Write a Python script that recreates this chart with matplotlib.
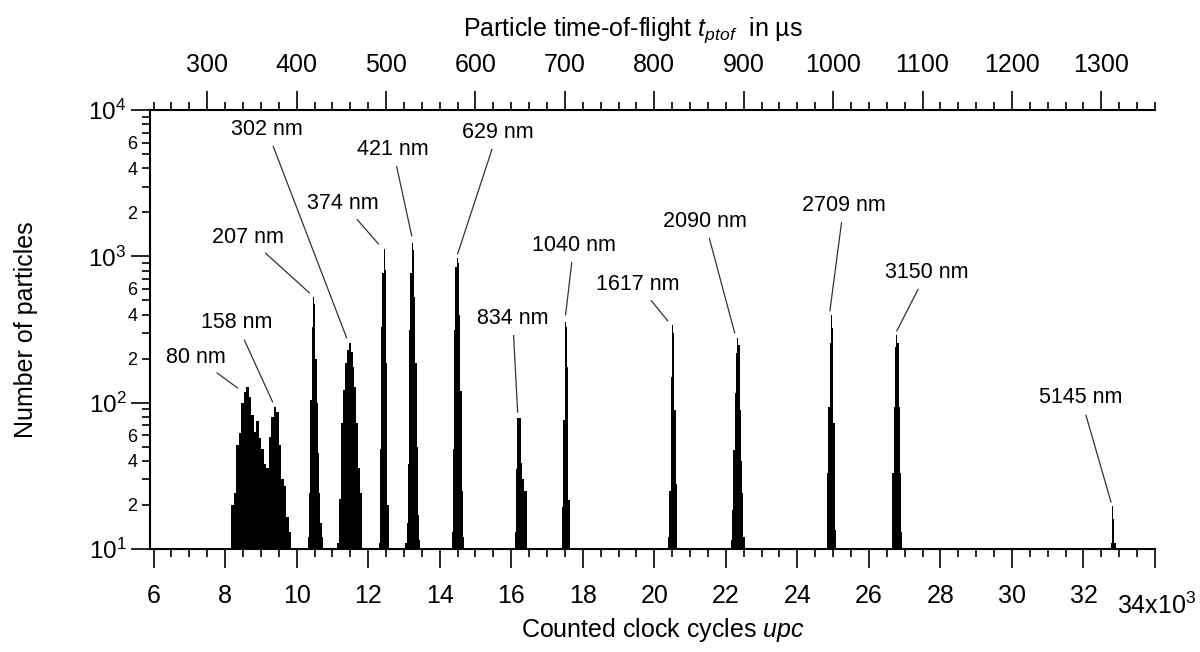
import numpy as np
import matplotlib
matplotlib.use("Agg")
import matplotlib.pyplot as plt
from matplotlib.ticker import FixedLocator, FuncFormatter

plt.rcParams['font.family'] = ['Liberation Sans', 'DejaVu Sans']
plt.rcParams['mathtext.fontset'] = 'custom'
plt.rcParams['mathtext.rm'] = 'Liberation Sans'
plt.rcParams['mathtext.it'] = 'Liberation Sans:italic'

# ---- histogram peaks: left edge (x10^3 upc), bin width, counts per bin ----
peak_start = [8.17, 10.316, 11.138, 12.29, 13.04, 14.33, 16.10, 17.42,
              20.39, 22.14, 24.83, 26.66, 32.76]
peak_bin = [0.07, 0.035, 0.053, 0.035, 0.035, 0.035, 0.035, 0.035,
            0.035, 0.035, 0.035, 0.035, 0.035]
peak_counts = [
    [20, 24, 51, 62, 100, 118, 128, 110, 82, 63, 75, 57, 48, 38, 36, 58,
     80, 93, 87, 51, 30, 27, 16.5, 13],
    [12, 24, 104, 330, 528, 470, 200, 100, 45, 24, 15, 12],
    [11, 22, 73, 122, 187, 229, 257, 222, 176, 128, 73, 36, 24],
    [11, 48, 330, 770, 1120, 810, 187, 20],
    [11, 15, 38, 315, 770, 1235, 1100, 530, 187, 50, 17, 11.5],
    [13, 48, 315, 850, 975, 900, 400, 120, 25, 12],
    [13, 35, 79, 79, 79, 39, 30, 25, 25, 25],
    [19.5, 76, 357, 330, 176, 21.6],
    [12, 25, 150, 340, 300, 89, 28],
    [11.5, 18.5, 47.6, 116, 219, 277, 250, 89, 40, 24, 12],
    [33, 94, 255, 398, 324, 73, 13.5],
    [33, 94, 241, 290, 255, 94, 33, 13],
    [11, 19.7, 16, 11],
]

# ---- size labels: text centre and leader tip (x10^3 upc, counts) ----
label_text = ["80 nm", "158 nm", "207 nm", "302 nm", "374 nm", "421 nm", "629 nm",
              "834 nm", "1040 nm", "1617 nm", "2090 nm", "2709 nm", "3150 nm", "5145 nm"]
label_x = [7.175, 8.32, 8.63, 9.16, 11.29, 12.69, 15.62,
           16.04, 17.75, 19.54, 21.41, 25.30, 27.62, 31.93]
label_y = [205, 351, 1358, 7430, 2317, 5420, 7080,
           379, 1197, 647, 1746, 2244, 781, 108]
tip_x = [8.35, 9.33, 10.36, 11.40, 12.29, 13.22, 14.50,
         16.18, 17.52, 20.38, 22.25, 24.91, 26.78, 32.77]
tip_y = [126, 101, 563, 277, 1216, 1377, 1038,
         86, 398, 362, 299, 424, 309, 20.9]

xticks_major = list(range(6, 35, 2))
top_ticks = list(range(300, 1301, 100))
US_PER_KUPC = 40.0   # 25 MHz clock: 1000 cycles = 40 us

fig = plt.figure(figsize=(12, 6.52), dpi=100)
ax = fig.add_axes([0.125, 0.158, 0.8375, 0.673])

for start, bw, counts in zip(peak_start, peak_bin, peak_counts):
    edges = start + bw * np.arange(len(counts) + 1)
    ax.stairs(counts, edges, fill=True, color='black', baseline=1, linewidth=0)

ax.set_yscale('log')
ax.set_ylim(10, 1e4)
ax.set_xlim(5.9, 34)

# x ticks
ax.xaxis.set_major_locator(FixedLocator(xticks_major))
ax.set_xticklabels([str(t) if t != 34 else '' for t in xticks_major])
ax.xaxis.set_minor_locator(FixedLocator(np.arange(6, 34.01, 0.5)))
ax.annotate('34x10$^3$', xy=(34, 0), xycoords=('data', 'axes fraction'),
            xytext=(1, -41), textcoords='offset points', ha='center', va='center',
            fontsize=18)

# y ticks
ax.yaxis.set_major_locator(FixedLocator([10, 100, 1000, 10000]))
ax.yaxis.set_major_formatter(FuncFormatter(lambda v, p: '$10^{%d}$' % round(np.log10(v))))
minor_y = [m * 10 ** d for d in range(1, 4) for m in range(2, 10)]
ax.yaxis.set_minor_locator(FixedLocator(minor_y))


def minor_label(v, p):
    m = int(round(v / 10 ** np.floor(np.log10(v) + 1e-9)))
    return str(m) if m in (2, 4, 6) else ''


ax.yaxis.set_minor_formatter(FuncFormatter(minor_label))

ax.tick_params(axis='both', which='major', direction='out', length=14, width=1.2,
               top=False, right=False)
ax.tick_params(axis='both', which='minor', direction='out', length=6, width=1.2,
               top=False, right=False)
ax.tick_params(axis='x', which='major', labelsize=18, pad=11)
ax.tick_params(axis='y', which='major', labelsize=17.5, pad=3)
ax.tick_params(axis='y', which='minor', labelsize=13, pad=3)

ax.spines['right'].set_visible(False)
ax.spines['top'].set_visible(False)
for s in ('left', 'bottom'):
    ax.spines[s].set_linewidth(1.5)

# top axis in time-of-flight
sec = ax.secondary_xaxis('top', functions=(lambda x: x * US_PER_KUPC,
                                           lambda t: t / US_PER_KUPC))
sec.xaxis.set_major_locator(FixedLocator(top_ticks))
sec.xaxis.set_minor_locator(FixedLocator(np.arange(240, 1361, 20)))
sec.tick_params(which='major', direction='out', length=14, width=1.2, labelsize=18, pad=10)
sec.tick_params(which='minor', direction='out', length=6, width=1.2)
sec.spines['top'].set_linewidth(1.5)
sec.set_xlabel('Particle time-of-flight $t_{ptof}$  in µs', fontsize=18, labelpad=12)
sec.xaxis.label.set_x(0.481)

ax.set_xlabel('Counted clock cycles $upc$', fontsize=18, labelpad=6)
ax.xaxis.label.set_x(0.51)
ax.set_ylabel('Number of particles', fontsize=18, labelpad=36)

for txt, lx, ly, tx, ty in zip(label_text, label_x, label_y, tip_x, tip_y):
    ax.annotate(txt, xy=(tx, ty), xytext=(lx, ly), ha='center', va='center',
                fontsize=15.5, annotation_clip=False,
                arrowprops=dict(arrowstyle='-', color='#333333', lw=0.9,
                                shrinkA=3, shrinkB=0))

fig.savefig('out.png', dpi=100)
